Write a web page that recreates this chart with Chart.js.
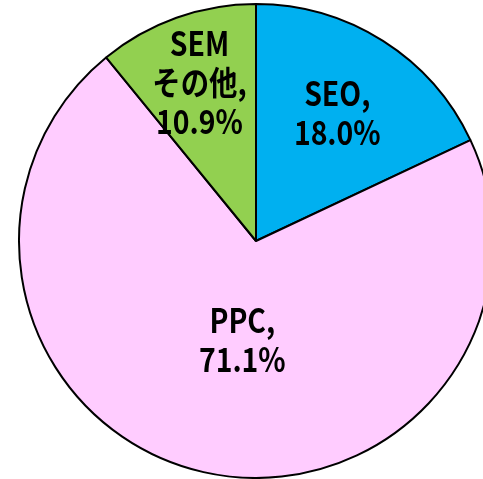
<!DOCTYPE html>
<html>
<head>
<meta charset="utf-8">
<script src="https://cdn.jsdelivr.net/npm/chart.js@4/dist/chart.umd.min.js"></script>
<style>
  html, body { margin: 0; padding: 0; background: #fff; overflow: hidden; }
  #wrap { width: 500px; height: 479px; }
</style>
</head>
<body>
<div id="wrap"><canvas id="pieChart" width="500" height="479"></canvas></div>
<script>
// data
const categories = ["SEO", "PPC", "SEM\nその他"];
const shares = [18.0, 71.1, 10.9];
const sliceColors = ["#00B0F0", "#FFCCFF", "#92D050"];

// where the label sits in the slice (fraction of radius, angle nudge in rad)
const labelRadius = [0.64, 0.42, 0.71];
const labelTurn = [0, -0.085, 0];

const ctx = document.getElementById("pieChart").getContext("2d");

// labels like Excel: "name," then "value%"
const labelPlugin = {
  id: "sliceLabels",
  afterDatasetsDraw(chart) {
    const c = chart.ctx;
    const arcs = chart.getDatasetMeta(0).data;
    c.save();
    c.font = "bold 33px 'Noto Sans CJK JP', 'Noto Sans', sans-serif";
    c.fillStyle = "#000";
    c.textAlign = "center";
    c.textBaseline = "middle";
    arcs.forEach((arc, i) => {
      const p = arc.getProps(["x", "y", "startAngle", "endAngle", "outerRadius"], true);
      const mid = (p.startAngle + p.endAngle) / 2 + labelTurn[i];
      const r = p.outerRadius * labelRadius[i];
      const cx = p.x + Math.cos(mid) * r;
      const cy = p.y + Math.sin(mid) * r;
      const lines = categories[i].split("\n");
      lines[lines.length - 1] += ",";
      lines.push(shares[i].toFixed(1) + "%");
      const pitch = 39;
      const top = cy - (lines.length - 1) * pitch / 2;
      lines.forEach((t, k) => {
        c.save();
        c.translate(cx, top + k * pitch);
        c.scale(0.86, 1);   // the original font is narrow
        c.fillText(t, 0, 0);
        c.restore();
      });
    });
    c.restore();
  }
};

const myPie = new Chart(ctx, {
  type: "pie",
  data: {
    labels: categories,
    datasets: [{
      data: shares,
      backgroundColor: sliceColors,
      borderColor: "#000",
      borderWidth: 2
    }]
  },
  options: {
    responsive: false,
    animation: false,
    layout: { padding: { top: 3, left: 18, right: 6, bottom: 0 } },
    plugins: {
      legend: { display: false },
      tooltip: { enabled: false }
    }
  },
  plugins: [labelPlugin]
});
</script>
</body>
</html>
